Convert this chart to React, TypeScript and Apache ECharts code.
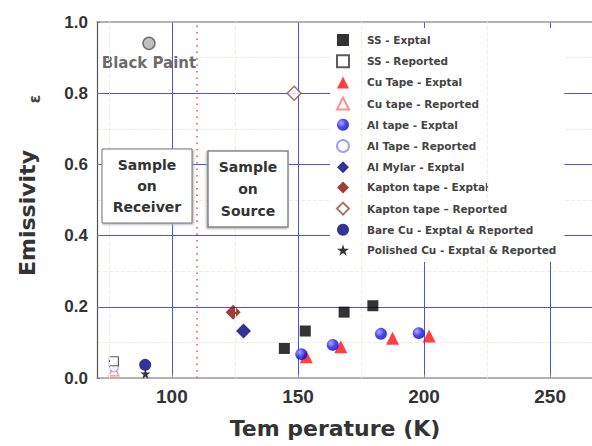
import React, { useEffect, useRef } from "react";
import * as echarts from "echarts";

// ---- data (Temperature K, Emissivity) ----
const ssExptal = [[144.6, 0.083], [152.9, 0.132], [168.3, 0.185], [179.7, 0.203]];
const ssReported = [[77, 0.047]];
const cuExptal = [[153.3, 0.06], [167.0, 0.088], [187.5, 0.112], [202.0, 0.118]];
const cuReported = [[77, 0.02]];
const alExptal = [[151.3, 0.067], [163.8, 0.093], [182.9, 0.124], [197.9, 0.126]];
const alReported = [[77, 0.03]];
const alMylar = [[128.4, 0.132]];
const kaptonExptal = [[124.3, 0.185]];
const kaptonReported = [[148.5, 0.8]];
const bareCu = [[89.4, 0.037]];
const polishedCu = [[89.5, 0.012]];
const blackPaint = [[90.9, 0.94]];
const dividerX = [110];
const minorX = [75, 125, 175, 225];

const legendNames = [
  "SS - Exptal",
  "SS - Reported",
  "Cu Tape - Exptal",
  "Cu tape - Reported",
  "Al tape - Exptal",
  "Al Tape - Reported",
  "Al Mylar - Exptal",
  "Kapton tape - Exptal",
  "Kapton tape – Reported",
  "Bare Cu - Exptal & Reported",
  "Polished Cu - Exptal & Reported",
];

const STAR =
  "path://M50,0 L61,35 L98,35 L68,57 L79,91 L50,70 L21,91 L32,57 L2,35 L39,35 Z";

export default function App() {
  const ref = useRef<HTMLDivElement>(null);
  useEffect(() => {
    if (!ref.current) return;
    const chart = echarts.init(ref.current, undefined, { renderer: "svg" });
    const blueBall = {
      type: "radial",
      x: 0.35,
      y: 0.35,
      r: 0.75,
      colorStops: [
        { offset: 0, color: "#9a9aff" },
        { offset: 0.5, color: "#1a1af0" },
        { offset: 1, color: "#0000c8" },
      ],
    };
    const sc = (name: string, data: number[][], symbol: string, size: number, itemStyle: any, z = 3) => ({
      name,
      type: "scatter",
      data,
      symbol,
      symbolSize: size,
      itemStyle,
      z,
    });
    const gridBlue = "#5252e0";
    const option: any = {
      animation: false,
      backgroundColor: "#ffffff",
      grid: { left: 97, right: 0, top: 22, bottom: 68 },
      xAxis: [
        {
          type: "value",
          min: 70.3,
          max: 266.6,
          minInterval: 50,
          maxInterval: 50,
          axisLine: { show: true, lineStyle: { color: "#999", width: 1.5 } },
          axisTick: { show: true, inside: true, length: 3, lineStyle: { color: "#999" } },
          axisLabel: {
            showMinLabel: false,
            showMaxLabel: false,
            fontFamily: "Liberation Sans, Arial",
            fontWeight: "bold",
            fontSize: 19,
            color: "#333",
            margin: 9,
          },
          splitLine: {
            show: true,
            showMinLine: false,
            showMaxLine: false,
            lineStyle: { color: gridBlue, width: 1 },
          },
        },
        {
          type: "value",
          position: "top",
          min: 70.3,
          max: 266.6,
          axisLine: { show: true, lineStyle: { color: "#999", width: 1.5 } },
          axisTick: { show: false },
          axisLabel: { show: false },
          splitLine: { show: false },
        },
      ],
      yAxis: {
        type: "value",
        min: 0,
        max: 1,
        interval: 0.2,
        axisLine: { show: true, lineStyle: { color: "#555", width: 1.2 } },
        axisTick: { show: true, inside: true, length: 3, lineStyle: { color: "#777" } },
        minorTick: { show: false, splitNumber: 2 },
        axisLabel: {
          fontFamily: "Liberation Sans, Arial",
          fontWeight: "bold",
          fontSize: 17,
          color: "#333",
          margin: 9,
          formatter: (v: number) => v.toFixed(1),
        },
        splitLine: {
          show: true,
          showMinLine: false,
          showMaxLine: false,
          lineStyle: { color: gridBlue, width: 1 },
        },
        minorSplitLine: { show: true, lineStyle: { color: "#ebf0e2", type: "dashed" } },
      },
      legend: {
        data: legendNames,
        orient: "vertical",
        left: 330,
        top: 28,
        padding: [6, 8, 6, 6],
        itemWidth: 12,
        itemHeight: 12,
        itemGap: 8.2,
        backgroundColor: "#ffffff",
        textStyle: {
          fontFamily: "DejaVu Sans",
          fontWeight: "bold",
          fontSize: 10.5,
          lineHeight: 12,
          color: "#444",
          padding: [0, 0, 0, 13],
        },
      },
      series: [
        {
          name: "minor",
          type: "line",
          data: [],
          silent: true,
          markLine: {
            silent: true,
            symbol: "none",
            label: { show: false },
            lineStyle: { color: "#ebf0e2", type: "dashed", width: 1 },
            data: minorX.map((v) => ({ xAxis: v })),
          },
          z: 1,
        },
        {
          name: "divider",
          type: "line",
          data: [],
          silent: true,
          markLine: {
            silent: true,
            symbol: "none",
            label: { show: false },
            lineStyle: { color: "#e85050", type: [1.5, 5], width: 1.5 },
            data: dividerX.map((v) => ({ xAxis: v })),
          },
          z: 2,
        },
        sc("Cu Tape - Exptal", cuExptal, "triangle", 13, { color: "#ff1010" }),
        sc("Al tape - Exptal", alExptal, "circle", 12, { color: blueBall }),
        sc("SS - Exptal", ssExptal, "rect", 11, { color: "#000" }),
        sc("Cu tape - Reported", cuReported, "triangle", 10, { color: "#fff", borderColor: "#ff7070", borderWidth: 1.2 }),
        sc("Al Tape - Reported", alReported, "circle", 9, { color: "#fff", borderColor: "#8888ff", borderWidth: 1.2 }),
        sc("SS - Reported", ssReported, "rect", 9, { color: "#fff", borderColor: "#333", borderWidth: 1.2 }),
        sc("Al Mylar - Exptal", alMylar, "diamond", 15, { color: "#00007a" }),
        sc("Kapton tape - Exptal", kaptonExptal, "diamond", 15, { color: "#8b0a0a" }),
        sc("Kapton tape – Reported", kaptonReported, "diamond", 14, { color: "#fff", borderColor: "#9a4a3a", borderWidth: 1.5 }),
        sc("Bare Cu - Exptal & Reported", bareCu, "circle", 12, { color: "#000080" }),
        sc("Polished Cu - Exptal & Reported", polishedCu, STAR, 10, { color: "#000" }),
        {
          name: "Black Paint",
          type: "scatter",
          data: blackPaint,
          symbol: "circle",
          symbolSize: 12,
          itemStyle: { color: "#b0b0b0", borderColor: "#555", borderWidth: 1.5 },
          label: {
            show: true,
            position: "bottom",
            distance: 5,
            formatter: "Black Paint",
            fontFamily: "DejaVu Sans",
            fontWeight: "bold",
            fontSize: 15,
            color: "#444",
          },
          z: 3,
        },
      ],
      graphic: [
        {
          type: "rect",
          z: 100,
          shape: { x: 102, y: 149, width: 90, height: 74 },
          style: { fill: "#fff", stroke: "#777", lineWidth: 1, shadowBlur: 2, shadowColor: "#aaa", shadowOffsetX: 1, shadowOffsetY: 1 },
        },
        {
          type: "text",
          z: 101,
          x: 147,
          y: 186,
          style: {
            text: "Sample\non\nReceiver",
            fontFamily: "DejaVu Sans",
            fontWeight: "bold",
            fontSize: 14,
            lineHeight: 21,
            fill: "#333",
            textAlign: "center",
            textVerticalAlign: "middle",
          },
        },
        {
          type: "rect",
          z: 100,
          shape: { x: 208, y: 151, width: 80, height: 76 },
          style: { fill: "#fff", stroke: "#888", lineWidth: 1.5, shadowBlur: 2, shadowColor: "#aaa", shadowOffsetX: -1, shadowOffsetY: 1 },
        },
        {
          type: "text",
          z: 101,
          x: 248,
          y: 189,
          style: {
            text: "Sample\non\nSource",
            fontFamily: "DejaVu Sans",
            fontWeight: "bold",
            fontSize: 14,
            lineHeight: 22,
            fill: "#333",
            textAlign: "center",
            textVerticalAlign: "middle",
          },
        },
        {
          type: "text",
          x: 335,
          y: 428,
          style: {
            text: "Tem perature (K)",
            fontFamily: "DejaVu Sans",
            fontWeight: "bold",
            fontSize: 22,
            fill: "#333",
            textAlign: "center",
            textVerticalAlign: "middle",
          },
        },
        {
          type: "text",
          x: 27,
          y: 213,
          rotation: Math.PI / 2,
          style: {
            text: "Emissivity",
            fontFamily: "DejaVu Sans",
            fontWeight: "bold",
            fontSize: 22,
            fill: "#333",
            textAlign: "center",
            textVerticalAlign: "middle",
          },
        },
        {
          type: "text",
          x: 35,
          y: 99,
          rotation: Math.PI / 2,
          style: {
            text: "ε",
            fontFamily: "DejaVu Sans",
            fontWeight: "bold",
            fontSize: 15,
            fill: "#444",
            textAlign: "center",
            textVerticalAlign: "middle",
          },
        },
      ],
    };
    chart.setOption(option);
    return () => chart.dispose();
  }, []);
  return <div ref={ref} style={{ width: 592, height: 446, position: "absolute", left: 0, top: 0 }} />;
}
